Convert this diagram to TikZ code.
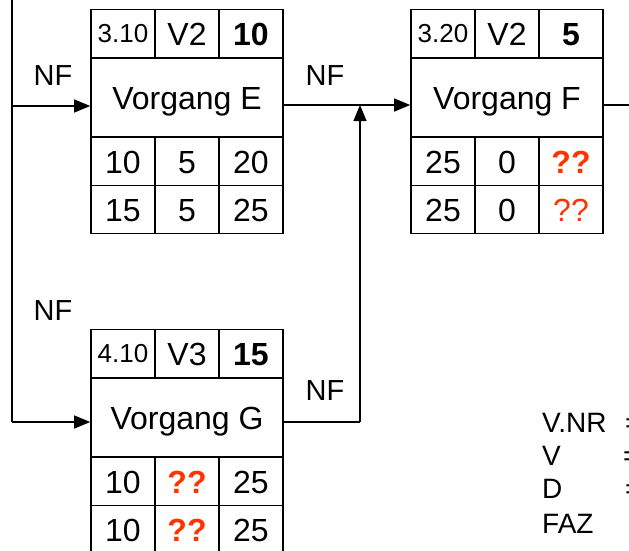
\documentclass[tikz,border=0pt]{standalone}
\usepackage{fontspec}
\setmainfont{Liberation Sans}
\usetikzlibrary{arrows.meta}
\definecolor{qred}{RGB}{255,51,0}
\tikzset{
  cell/.style={draw,line width=1.6pt,inner sep=0pt,minimum width=64pt,minimum height=48pt,
    font=\fontsize{32}{32}\selectfont,text height=23pt,text depth=0pt},
  nrcell/.style={cell,font=\fontsize{26}{26}\selectfont,text height=18.5pt},
  namecell/.style={cell,minimum width=192pt,minimum height=79pt},
  quest/.style={text=qred,font=\fontsize{32}{32}\selectfont\bfseries},
  questthin/.style={text=qred},
  lbl/.style={inner sep=0pt,font=\fontsize{29}{29}\selectfont},
  legend/.style={anchor=base west,inner sep=0pt,font=\fontsize{28}{28}\selectfont},
  conn/.style={line width=1.3pt}
}
\begin{document}
\begin{tikzpicture}[>={Triangle[length=16pt,width=13pt]},x=1pt,y=-1pt]
  \useasboundingbox (0,0) rectangle (629,550);
  % Vorgang E
  \node[nrcell] (E-nr) at (123,33.5) {3.10};
  \node[cell] (E-v) at (187,33.5) {V2};
  \node[cell,font=\fontsize{32}{32}\selectfont\bfseries] (E-d) at (251,33.5) {10};
  \node[namecell] (E) at (187,97.5) {Vorgang E};
  \node[cell] (E-faz) at (123,161.5) {10};
  \node[cell] (E-gp) at (187,161.5) {5};
  \node[cell] (E-fez) at (251,161.5) {20};
  \node[cell] (E-saz) at (123,209.5) {15};
  \node[cell] (E-fp) at (187,209.5) {5};
  \node[cell] (E-sez) at (251,209.5) {25};
  % Vorgang F
  \node[nrcell] (F-nr) at (443,33.5) {3.20};
  \node[cell] (F-v) at (507,33.5) {V2};
  \node[cell,font=\fontsize{32}{32}\selectfont\bfseries] (F-d) at (571,33.5) {5};
  \node[namecell] (F) at (507,97.5) {Vorgang F};
  \node[cell] (F-faz) at (443,161.5) {25};
  \node[cell] (F-gp) at (507,161.5) {0};
  \node[cell,quest] (F-fez) at (571,161.5) {??};
  \node[cell] (F-saz) at (443,209.5) {25};
  \node[cell] (F-fp) at (507,209.5) {0};
  \node[cell,questthin] (F-sez) at (571,209.5) {??};
  % Vorgang G
  \node[nrcell] (G-nr) at (123,353.5) {4.10};
  \node[cell] (G-v) at (187,353.5) {V3};
  \node[cell,font=\fontsize{32}{32}\selectfont\bfseries] (G-d) at (251,353.5) {15};
  \node[namecell] (G) at (187,417.5) {Vorgang G};
  \node[cell] (G-faz) at (123,481.5) {10};
  \node[cell,quest] (G-gp) at (187,481.5) {??};
  \node[cell] (G-fez) at (251,481.5) {25};
  \node[cell] (G-saz) at (123,529.5) {10};
  \node[cell,quest] (G-fp) at (187,529.5) {??};
  \node[cell] (G-sez) at (251,529.5) {25};
  % connectors
  \coordinate (railtop) at (12,0);
  \coordinate (railE) at (12,106);
  \coordinate (railG) at (12,422);
  \coordinate (knot) at (360,105);
  \coordinate (foot) at (360,422);
  \coordinate (exitF) at (629,105);
  \draw[conn] (railtop) -- (railG);
  \draw[conn,->] (railE) -- (railE -| E.west);
  \draw[conn,->] (railG) -- (railG -| G.west);
  \draw[conn] (knot -| E.east) -- (knot);
  \draw[conn,->] (knot) -- (knot -| F.west);
  \draw[conn] (foot -| G.east) -- (foot);
  \draw[conn,->] (foot) -- (knot);
  \draw[conn] (knot -| F.east) -- (exitF);
  \node[lbl] (nf1) at (53,76) {NF};
  \node[lbl] (nf2) at (325,76) {NF};
  \node[lbl] (nf3) at (53,311) {NF};
  \node[lbl] (nf4) at (325,391) {NF};
  % legend
  \node[legend] (lg-nr) at (542,432) {V.NR};
  \node[legend] (lg-v) at (542,465) {V};
  \node[legend] (lg-d) at (542,498) {D};
  \node[legend] (lg-faz) at (542,533) {FAZ};
  \node[legend] (eq-nr) at (625,432) {=};
  \node[legend] (eq-v) at (623,465) {=};
  \node[legend] (eq-d) at (625,498) {=};
\end{tikzpicture}
\end{document}
